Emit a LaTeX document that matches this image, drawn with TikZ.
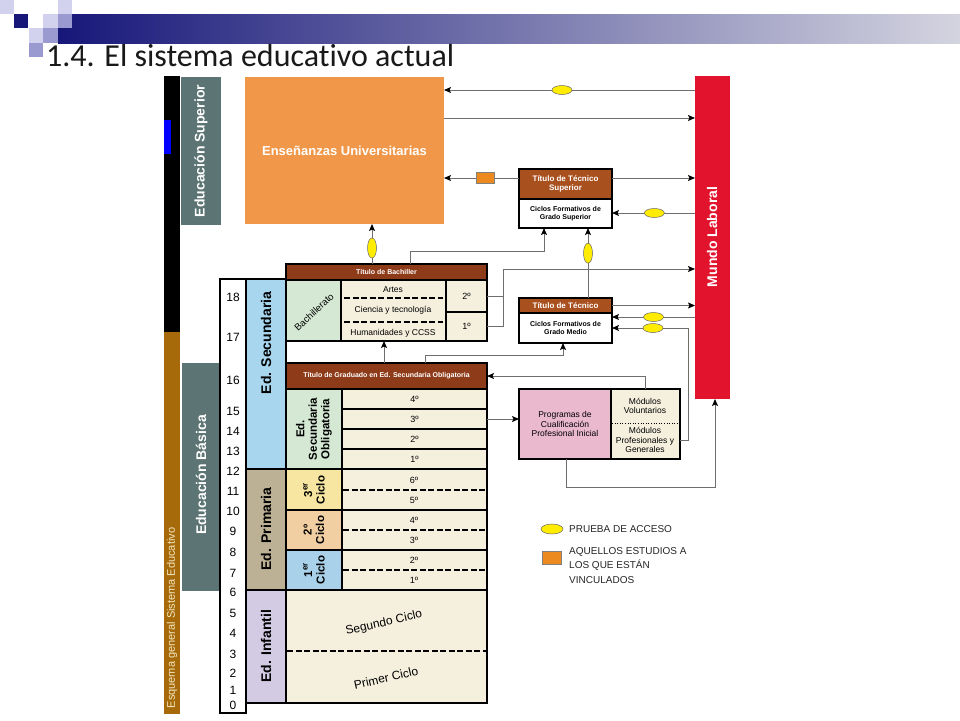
\documentclass[tikz,border=0pt]{standalone}
\usepackage{fontspec}
\setmainfont{Liberation Sans}
\newfontfamily\titlefont[Ligatures=NoCommon]{Carlito}
\usetikzlibrary{arrows.meta,shapes.geometric}
\definecolor{navyA}{HTML}{17177A}
\definecolor{bandR}{HTML}{D4D4E0}
\definecolor{lavA}{HTML}{D2D2EE}
\definecolor{lavB}{HTML}{9A9AD0}
\definecolor{uniO}{HTML}{F0974A}
\definecolor{slateG}{HTML}{5C7574}
\definecolor{redM}{HTML}{E2142D}
\definecolor{secB}{HTML}{A7D6EE}
\definecolor{primT}{HTML}{BCB195}
\definecolor{infL}{HTML}{D3CBE3}
\definecolor{bachG}{HTML}{D4E8D4}
\definecolor{creamC}{HTML}{F5F0DE}
\definecolor{brownH}{HTML}{8E3B1A}
\definecolor{tecH}{HTML}{A9501F}
\definecolor{pinkP}{HTML}{EAB9CD}
\definecolor{cycT}{HTML}{F6E6A1}
\definecolor{cycD}{HTML}{F1CFA3}
\definecolor{cycU}{HTML}{A9D2EA}
\definecolor{barBr}{HTML}{A66A0A}
\definecolor{yellE}{HTML}{FFEC00}
\definecolor{orgR}{HTML}{EC8A20}
\definecolor{lineG}{HTML}{6E6E6E}
\definecolor{esqT}{HTML}{F3E6BE}
\newcommand\myfTitle{\titlefont\fontsize{32}{34}\selectfont}
\newcommand\myfBig{\bfseries\fontsize{14}{16}\selectfont}
\newcommand\myfUniv{\bfseries\fontsize{13}{15}\selectfont}
\newcommand\myfCic{\bfseries\fontsize{11.5}{12.5}\selectfont}
\newcommand\myfAge{\fontsize{12}{14}\selectfont}
\newcommand\myfCell{\fontsize{9}{10}\selectfont}
\newcommand\myfBach{\fontsize{8.5}{10}\selectfont}
\newcommand\myfHead{\bfseries\fontsize{7}{8}\selectfont}
\newcommand\myfTec{\bfseries\fontsize{8}{9.5}\selectfont}
\newcommand\myfCf{\bfseries\fontsize{7}{8.5}\selectfont}
\newcommand\myfPc{\fontsize{8.5}{9.5}\selectfont}
\newcommand\myfInf{\fontsize{12}{14}\selectfont}
\newcommand\myfLeg{\fontsize{10}{14.5}\selectfont}
\newcommand\myfEsq{\fontsize{11}{13}\selectfont}
\begin{document}
\begin{tikzpicture}[x=1pt,y=-1pt,
  pl/.style={anchor=north west, inner sep=0pt, outer sep=0pt, align=center},
  bx/.style={pl, draw=black, line width=1.3pt},
  sz/.style 2 args={minimum width=#1pt, minimum height=#2pt},
  ln/.style={draw=lineG, line width=1pt},
  conn/.style={ln, -{Stealth[length=7pt,width=6pt,inset=1.5pt,color=black]}},
  ell/.style={ellipse, draw=black!60, line width=0.5pt, fill=yellE, minimum width=20pt, minimum height=9pt, inner sep=0pt},
  vell/.style={ell, minimum width=9pt, minimum height=20pt},
  orect/.style={draw=black!50, line width=0.5pt, fill=orgR, minimum width=18pt, minimum height=11pt, inner sep=0pt},
  dsh/.style={draw=black, line width=1.3pt, dash pattern=on 6pt off 2.5pt},
  txt/.style={inner sep=0pt, align=center},
]
\useasboundingbox (0,0) rectangle (960,720);
\fill[white] (0,0) rectangle (960,720);

% ---- slide decoration ----
\shade[left color=navyA, right color=bandR] (58,14) rectangle (960,43);
\fill[lavA] (0,0) rectangle (14,14);
\fill[navyA] (14,14) rectangle (28,28);
\fill[lavA] (43,14) rectangle (58,28);
\fill[lavA] (58,0) rectangle (72,14);
\fill[lavB] (58,14) rectangle (72,28);
\fill[lavA] (29,28) rectangle (43,43);
\fill[lavB] (43,28) rectangle (58,43);
\fill[lavB] (29,43) rectangle (43,57);
\node[anchor=base west, inner sep=0pt, text=black!90, font=\myfTitle] (title) at (46,66) {1.4. El sistema educativo actual};

% ---- left bars ----
\node[pl, fill=black, sz={16}{256}] (barK) at (164,76) {};
\node[pl, fill=barBr, sz={16}{382}] (barB) at (164,332) {};
\node[pl, fill=blue, sz={7}{34}] (barU) at (164,120) {};
\node[txt, rotate=90, text=esqT, font=\myfEsq] (esq) at (172,618) {Esquema general Sistema Educativo};

\node[pl, fill=slateG, sz={40}{148}] (esup) at (181,77) {};
\node[txt, rotate=90, text=white, font=\myfBig] (esupT) at (201,151) {Educación Superior};
\node[pl, fill=slateG, sz={38}{228}] (ebas) at (182,363) {};
\node[txt, rotate=90, text=white, font=\myfBig] (ebasT) at (201,475) {Educación Básica};

% ---- universidad ----
\node[pl, fill=uniO, sz={199}{147}, text=white, font=\myfUniv] (univ) at (245,77) {Enseñanzas Universitarias};

% ---- mundo laboral ----
\node[pl, fill=redM, sz={35}{323}] (mundo) at (695,76) {};
\node[txt, rotate=90, text=white, font=\myfBig] (mundoT) at (712,237) {Mundo Laboral};

% ---- ages ----
\node[bx, fill=white, sz={26}{434}] (agecol) at (220,279) {};
\foreach \a/\yy in {18/297,17/337,16/380,15/411,14/431,13/451,12/471,11/491,10/511,9/531,8/552,7/573,6/592,5/613,4/633,3/654,2/673,1/690,0/705}
  \node[txt, font=\myfAge] (age\a) at (233,\yy) {\a};

% ---- stages ----
\node[bx, fill=secB, sz={40}{190}] (edsec) at (246,279) {};
\node[txt, rotate=90, font=\myfBig] (edsecT) at (266,343) {Ed. Secundaria};
\node[bx, fill=primT, sz={40}{121}] (edprim) at (246,469) {};
\node[txt, rotate=90, font=\myfBig] (edprimT) at (266,529) {Ed. Primaria};
\node[bx, fill=infL, sz={40}{113}] (edinf) at (246,590) {};
\node[txt, rotate=90, font=\myfBig] (edinfT) at (266,646) {Ed. Infantil};

% ---- bachillerato ----
\node[bx, fill=brownH, sz={201}{16}, text=white, font=\myfHead] (bachh) at (286,264) {Título de Bachiller};
\node[bx, fill=bachG, sz={55}{61}] (bg) at (286,280) {};
\node[txt, rotate=43, font=\fontsize{9.5}{11}\selectfont] (bgT) at (314,312) {Bachillerato};
\node[bx, fill=creamC, sz={105}{61}] (bm) at (341,280) {};
\node[bx, fill=creamC, sz={41}{32}, font=\myfCell] (b2) at (446,280) {2º};
\node[bx, fill=creamC, sz={41}{29}, font=\myfCell] (b1) at (446,312) {1º};
\draw[dsh] (344,298) -- (443,298);
\draw[dsh] (344,322) -- (443,322);
\node[txt, font=\myfBach] (artes) at (393,290) {Artes};
\node[txt, font=\myfBach] (ciencia) at (393,310) {Ciencia y tecnología};
\node[txt, font=\myfBach] (human) at (393,333) {Humanidades y CCSS};

% ---- ESO ----
\node[bx, fill=brownH, sz={201}{26}, text=white, font=\myfHead] (gradh) at (286,363) {Título de Graduado en Ed. Secundaria Obligatoria};
\node[bx, fill=bachG, sz={56}{80}] (esog) at (286,389) {};
\node[txt, rotate=90, font=\myfCic] (esoT) at (314,429) {Ed.\\Secundaria\\Obligatoria};
\node[bx, fill=creamC, sz={145}{20}, font=\myfCell] (r4) at (342,389) {4º};
\node[bx, fill=creamC, sz={145}{20}, font=\myfCell] (r3) at (342,409) {3º};
\node[bx, fill=creamC, sz={145}{20}, font=\myfCell] (r2) at (342,429) {2º};
\node[bx, fill=creamC, sz={145}{20}, font=\myfCell] (r1) at (342,449) {1º};

% ---- primaria ----
\node[bx, fill=cycT, sz={56}{41}] (cyc3) at (286,469) {};
\node[txt, rotate=90, font=\myfCic] (cyc3T) at (314,490) {3\textsuperscript{er}\\Ciclo};
\node[bx, fill=cycD, sz={56}{40}] (cyc2) at (286,510) {};
\node[txt, rotate=90, font=\myfCic] (cyc2T) at (314,530) {2º\\Ciclo};
\node[bx, fill=cycU, sz={56}{40}] (cyc1) at (286,550) {};
\node[txt, rotate=90, font=\myfCic] (cyc1T) at (314,570) {1\textsuperscript{er}\\Ciclo};
\node[bx, fill=creamC, sz={145}{41}] (p56) at (342,469) {};
\node[bx, fill=creamC, sz={145}{40}] (p34) at (342,510) {};
\node[bx, fill=creamC, sz={145}{40}] (p12) at (342,550) {};
\draw[dsh] (343,490) -- (487,490);
\draw[dsh] (343,530) -- (487,530);
\draw[dsh] (343,570) -- (487,570);
\foreach \t/\yy in {6º/480,5º/500,4º/520,3º/540,2º/560,1º/580}
  \node[txt, font=\myfCell] at (414,\yy) {\t};

% ---- infantil ----
\node[bx, fill=creamC, sz={201}{113}] (inf) at (286,590) {};
\draw[dsh] (287,651) -- (487,651);
\node[txt, rotate=13, font=\myfInf] (segT) at (384,623) {Segundo Ciclo};
\node[txt, rotate=13, font=\myfInf] (priT) at (386,678) {Primer Ciclo};

% ---- tecnico superior ----
\node[bx, fill=tecH, sz={93}{30}, text=white, font=\myfTec] (tsh) at (519,169) {Título de Técnico\\Superior};
\node[bx, fill=white, sz={93}{29}, font=\myfCf] (tsb) at (519,199) {Ciclos Formativos de\\Grado Superior};

% ---- tecnico ----
\node[bx, fill=tecH, sz={93}{15}, text=white, font=\myfTec] (tmh) at (519,298) {Título de Técnico};
\node[bx, fill=white, sz={93}{30}, font=\myfCf] (tmb) at (519,313) {Ciclos Formativos de\\Grado Medio};

% ---- PCPI ----
\node[bx, fill=pinkP, sz={92}{70}, font=\myfPc] (pcp) at (519,389) {Programas de\\Cualificación\\Profesional Inicial};
\node[bx, fill=creamC, sz={69}{70}] (pcc) at (611,389) {};
\draw[black, line width=0.6pt, dotted] (612,423) -- (679,423);
\node[txt, font=\myfPc] (modV) at (645,406) {Módulos\\Voluntarios};
\node[txt, font=\myfPc] (modP) at (645,440) {Módulos\\Profesionales y\\Generales};

% ---- helper coordinates ----
\coordinate (y90) at (0,90);
\coordinate (y118) at (0,118);
\coordinate (y178) at (0,178);
\coordinate (y213) at (0,213);
\coordinate (y317) at (0,317);
\coordinate (y440) at (0,440);
\coordinate (k1) at (410,251);
\coordinate (k2) at (544,251);
\coordinate (k3) at (503,269);
\coordinate (k4) at (688,328);
\coordinate (k5) at (425,355);
\coordinate (k5b) at (563,355);
\coordinate (k6) at (645,375);
\coordinate (k7) at (566,487);
\coordinate (k8) at (715,487);
\coordinate (k9) at (384,0);
\coordinate (k10) at (588,0);
\coordinate (k11) at (372,0);

% ---- connectors ----
\draw[conn] (mundo.west |- y90) -- node[ell, pos=0.53] (e1) {} (univ.east |- y90);
\draw[conn] (univ.east |- y118) -- (mundo.west |- y118);
\draw[conn] (tsh.west |- y178) -- node[orect, pos=0.45] (o1) {} (univ.east |- y178);
\draw[conn] (tsh.east |- y178) -- (mundo.west |- y178);
\draw[conn] (mundo.west |- y213) -- node[ell, pos=0.49] (e2) {} (tsb.east |- y213);
\draw[conn] (bachh.north -| k1) |- (k2) -- (tsb.south -| k2);
\draw[conn] (tmh.north -| k10) -- node[vell, pos=0.64] (e3) {} (tsb.south -| k10);
\draw[conn] (bachh.north -| k11) -- node[vell, pos=0.4] (e4) {} (univ.south -| k11);
\draw[ln] (b1.east) -| (k3);
\draw[ln] (b2.east) -- (b2.east -| k3);
\draw[conn] (k3) -- (mundo.west |- k3);
\draw[conn] (tmh.east) -- (mundo.west |- tmh.east);
\draw[conn] (mundo.west |- y317) -- node[ell, pos=0.5] (e5) {} (tmb.east |- y317);
\draw[conn] (pcc.east |- y440) -| (k4) -- (tmb.east |- k4);
\node[ell] (e6) at (653,328) {};
\draw[conn] (gradh.north -| k5) |- (k5b) -- (tmb.south -| k5b);
\draw[conn] (gradh.north -| k9) -- (bm.south -| k9);
\draw[conn] (pcc.north -| k6) |- (gradh.east);
\draw[conn] (r3.east) -- (pcp.west |- r3.east);
\draw[conn] (pcp.south -| k7) |- (k8) -- (mundo.south -| k8);

% ---- legend ----
\node[ell, minimum width=22pt, minimum height=10pt] (legE) at (552,529) {};
\node[anchor=west, inner sep=0pt, text=black!85, font=\myfLeg] (legET) at (569,529) {PRUEBA DE ACCESO};
\node[orect, minimum width=19pt, minimum height=13pt] (legO) at (551.5,558) {};
\node[anchor=north west, inner sep=0pt, align=left, text=black!85, font=\myfLeg] (legOT) at (569,547) {AQUELLOS ESTUDIOS A\\LOS QUE ESTÁN\\VINCULADOS};
\end{tikzpicture}
\end{document}
